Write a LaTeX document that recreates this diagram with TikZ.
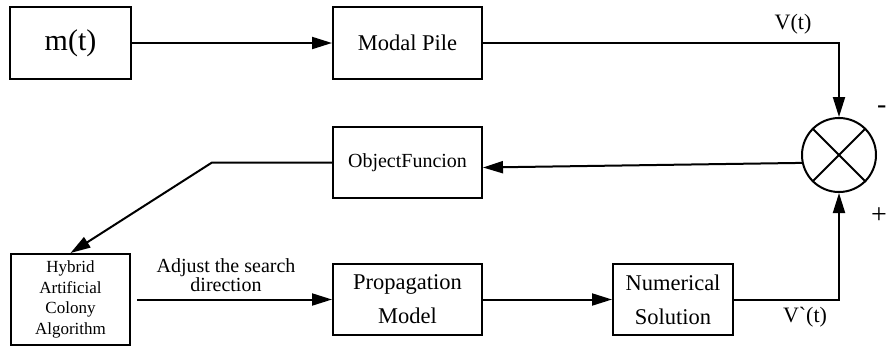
\documentclass[tikz,border=0pt]{standalone}
\usepackage{fontspec}
\setmainfont{Liberation Serif}
\usetikzlibrary{arrows.meta,positioning}

\begin{document}
\begin{tikzpicture}[
  x=1pt, y=-1pt,
  >={Triangle[length=20pt,width=12pt]},
  every node/.style={font=\fontsize{20}{24}\selectfont},
  block/.style={rectangle, draw, line width=2pt, align=center,
    minimum width=149pt, minimum height=71pt, inner sep=2pt,
    font=\fontsize{22.5}{34}\selectfont},
  summer/.style={circle, draw, line width=2pt, minimum size=74pt, inner sep=0pt},
  sig/.style={->, line width=2pt},
  lbl/.style={font=\fontsize{22}{24}\selectfont, inner sep=0pt},
]
\useasboundingbox (0,0) rectangle (887,349);

% ========= Forward path (top) =========
\node[block, minimum width=121pt, minimum height=72pt,
      font=\fontsize{30}{34}\selectfont] (mt) at (70.5,43) {m(t)};
\node[block, minimum height=72pt] (pile) at (407.5,43) {Modal Pile};
\node[summer] (sum) at (839,155) {};
\draw[line width=2pt] (sum.north west) -- (sum.south east);
\draw[line width=2pt] (sum.north east) -- (sum.south west);

% ========= Feedback / optimisation loop =========
\node[block, font=\fontsize{20}{24}\selectfont] (obj) at (407.5,162.5) {ObjectFuncion};
\node[block, minimum width=119pt, minimum height=91pt,
      font=\fontsize{17}{20.5}\selectfont] (haca) at (70.5,299.5) {Hybrid\\Artificial\\Colony\\Algorithm};
\node[block] (prop) at (407.5,299.5) {Propagation\\Model};
\node[block, minimum width=120pt] (num) at (673,299.5) {Numerical\\Solution};

% ========= Signal arrows =========
\draw[sig] (mt) -- (pile);
\draw[sig] (pile) -| (sum);
\draw[sig] (sum.192) -- ([yshift=-5pt]obj.east);
\draw[sig] (obj.west) -- ++(-120,0) -- (haca.north);
\draw[sig, shorten <=6pt] (haca) -- (prop);
\draw[sig] (prop) -- (num);
\draw[sig] (num) -| (sum);

% ========= Labels =========
\node[lbl] (vt) at (793,24) {V(t)};
\node[lbl] (vnt) at (805,317) {V\textasciigrave(t)};
\node[lbl, align=center, font=\fontsize{20}{18}\selectfont] (adj) at (226,275) {Adjust the search\\direction};
\node[lbl, anchor=west, font=\fontsize{28}{28}\selectfont] (minus) at (877,110) {-};
\node[lbl, anchor=west, font=\fontsize{28}{28}\selectfont] (plus) at (871,216) {+};

\end{tikzpicture}
\end{document}
